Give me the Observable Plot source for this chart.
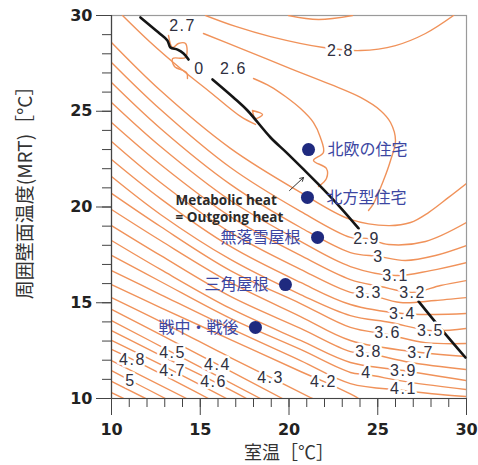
<!DOCTYPE html>
<html><head><meta charset="utf-8">
<script src="https://cdn.jsdelivr.net/npm/d3@7"></script>
<script src="https://cdn.jsdelivr.net/npm/@observablehq/plot@0.6"></script>
<style>
body{margin:0;background:#fff;}
.clabel text{letter-spacing:1.5px;}
</style></head><body><div id="chart"></div>
<script>
// ---- contour lines (room temp x, MRT y) ----
const c26 = [[18.00,26.71],[18.96,26.29],[19.80,25.77],[20.65,25.14],[21.38,24.41],[21.77,23.63],[21.94,22.85],[21.38,22.43],[22.11,22.01],[22.11,21.49],[21.66,21.07]];
const c27 = [[15.18,29.06],[17.27,28.28],[20.08,27.23],[22.34,26.40],[24.03,25.72],[25.15,25.04],[25.72,24.41],[26.00,23.47],[25.72,22.43],[25.32,21.38],[24.76,20.18],[24.48,19.82]];
const c27b = [[10.62,30],[12.20,28.59],[13.89,27.23],[15.58,25.98],[17.27,24.73],[18.11,24.31]];
const c27w = [[13.21,28.96],[13.44,28.33],[13.77,28.54],[14.17,28.54],[14.17,27.81],[13.44,27.75],[13.55,27.34],[14.23,27.02],[14.28,26.71]];
const c28top = [[15.30,30],[16.99,29.43],[18.96,28.90],[21.94,28.33],[24.03,28.17],[26.00,28.43],[27.69,29.06],[29.27,30]];
const c29top = [[19.97,30],[21.66,29.79],[23.58,30]];
const cLoop = [[17.94,25.04],[18.51,24.83],[18.11,24.62],[17.94,25.04]];
const c28 = [[10,28.59],[12.76,26.08],[16.70,23.06],[20.65,20.76],[23.46,19.35],[25.61,19.03],[26.85,19.19],[27.86,19.71],[28.99,20.50],[30,21.23]];
const c29 = [[10,27.55],[12.76,25.09],[16.70,22.06],[20.65,19.77],[23.46,18.41],[24.37,18.36],[25.61,18.04],[27.69,18.20],[30,19.19]];
const c30 = [[10,26.50],[12.76,24.10],[16.70,21.18],[20.65,18.93],[23.46,17.62],[25.04,17.42],[26.56,17.21],[28.25,17.47],[30,17.99]];
const c31 = [[10,25.46],[12.76,23.16],[16.70,20.34],[20.65,18.20],[23.46,16.89],[26.00,16.42],[27.97,16.68],[30,17.10]];
const c32 = [[10,24.41],[12.76,22.22],[16.70,19.50],[20.65,17.47],[23.46,16.21],[25.15,15.85],[26.96,15.54],[28.54,15.90],[30,16.16]];
const c33 = [[10,23.42],[12.76,21.28],[16.70,18.67],[20.65,16.74],[23.46,15.54],[24.48,15.43],[26.28,15.01],[28.25,15.12],[30,15.27]];
const c34 = [[10,22.48],[12.76,20.44],[16.70,17.94],[20.65,16.06],[23.46,14.91],[26.39,14.44],[28.25,14.39],[30,14.44]];
const c35 = [[10,21.59],[12.76,19.61],[16.70,17.26],[20.65,15.43],[23.46,14.33],[25.72,13.97],[27.97,13.55],[30,13.66]];
const c36 = [[10,20.71],[12.76,18.98],[16.70,16.68],[20.65,14.96],[23.46,13.71],[25.55,13.34],[27.69,12.92],[30,12.87]];
const c37 = [[10,19.87],[12.76,18.25],[16.70,16.06],[20.65,14.28],[23.46,13.03],[27.41,12.40],[30,12.19]];
const c38 = [[10,19.03],[12.76,17.47],[16.70,15.33],[20.65,13.66],[23.46,12.45],[24.48,12.35],[26.85,11.88],[30,11.51]];
const c39 = [[10,18.25],[12.76,16.74],[16.70,14.70],[20.65,13.03],[23.46,11.88],[26.45,11.46],[28.54,11.15],[30,10.94]];
const c40 = [[10,17.47],[12.76,16.11],[16.70,14.18],[20.65,12.56],[23.46,11.36],[24.37,11.25],[26.85,10.84],[30,10.47]];
const c41 = [[10,16.68],[12.76,15.43],[16.70,13.66],[20.65,11.98],[23.46,10.78],[26.45,10.42],[28.54,10.21],[30,10.10]];
const c42 = [[10,15.95],[12.76,14.75],[16.70,13.08],[20.65,11.41],[21.94,10.89],[23.75,10.10],[23.92,10.00]];
const c43 = [[10,15.27],[12.76,14.02],[16.70,12.14],[18.96,11.10],[21.21,10.05],[21.32,10]];
const c44 = [[10,14.65],[12.76,13.34],[15.97,11.78],[19.63,10]];
const c45 = [[10,14.07],[13.44,12.40],[18.39,10]];
const c46 = [[10,13.55],[12.76,12.25],[15.75,10.89],[17.61,10]];
const c47 = [[10,13.03],[13.44,11.46],[16.48,10]];
const c48 = [[10,12.56],[11.18,12.04],[15.46,10]];
const c49 = [[10,11.98],[14.23,10]];
const c50 = [[10,11.46],[11.07,10.94],[13.04,10]];
const c51 = [[10,10.89],[11.92,10]];
const c52 = [[10,10.31],[10.68,10]];

// ---- metabolic heat = outgoing heat line ----
const blackSeg1 = [[11.63,29.90],[12.65,29.11],[13.15,28.70],[13.32,28.33],[13.72,28.22],[14.06,28.02],[14.34,27.70]];
const blackSeg2 = [[15.69,26.66],[16.87,25.72],[17.66,25.04],[18.96,23.63],[19.92,22.79],[21.61,21.23],[22.90,19.97],[23.92,18.88]];
const blackSeg3 = [[27.30,15.07],[28.54,13.66],[29.94,12.14]];

// ---- contour labels ----
const labelText = ["2.6","2.7","2.8","0","2.9","3","3.1","3.2","3.3","3.4","3.5","3.6","3.7","3.8","3.9","4","4.1","4.2","4.3","4.4","4.5","4.6","4.7","4.8","5"];
const labelX = [16.87,14.00,22.90,14.96,24.37,25.04,26.00,26.96,24.48,26.39,27.97,25.55,27.41,24.48,26.45,24.37,26.45,21.94,18.96,15.97,13.44,15.75,13.44,11.18,11.07];
const labelY = [27.23,29.48,28.17,27.23,18.36,17.42,16.42,15.54,15.54,14.44,13.55,13.45,12.40,12.45,11.46,11.36,10.52,10.89,11.10,11.78,12.40,10.89,11.46,12.04,10.94];

// ---- housing types ----
const houseNames = ["北欧の住宅","北方型住宅","無落雪屋根","三角屋根","戦中・戦後"];
const houseX = [21.10,21.04,21.61,19.80,18.11];
const houseY = [23.00,20.50,18.41,15.95,13.71];
const houseSide = ["right","right","left","left","left"];

// ---- axes ----
const majorTicks = [10,15,20,25,30];
const minorTicks = [10,11,12,13,14,15,16,17,18,19,20,21,22,23,24,25,26,27,28,29,30];

const contourSets = [["2.6",c26],["2.7",c27],["2.7b",c27b],["2.7w",c27w],["2.8t",c28top],["2.9t",c29top],["loop",cLoop],
  ["2.8",c28],["2.9",c29],["3.0",c30],["3.1",c31],["3.2",c32],["3.3",c33],["3.4",c34],["3.5",c35],["3.6",c36],["3.7",c37],["3.8",c38],["3.9",c39],
  ["4.0",c40],["4.1",c41],["4.2",c42],["4.3",c43],["4.4",c44],["4.5",c45],["4.6",c46],["4.7",c47],["4.8",c48],["4.9",c49],["5.0",c50],["5.1",c51],["5.2",c52]];
const contourRows = contourSets.flatMap(([id, pts]) => pts.map(([x, y]) => ({id, x, y})));
const blackRows = [blackSeg1, blackSeg2, blackSeg3].flatMap((pts, i) => pts.map(([x, y]) => ({seg: i, x, y})));
const labels = labelText.map((t, i) => ({t, x: labelX[i], y: labelY[i]}));
const houses = houseNames.map((n, i) => ({n, x: houseX[i], y: houseY[i], side: houseSide[i]}));

const orange = "#f0925a";
const blue = "#3c46a2";

const chart = Plot.plot({
  width: 478, height: 465,
  marginLeft: 111, marginRight: 12, marginTop: 15, marginBottom: 67,
  x: {domain: [10, 30]},
  y: {domain: [10, 30]},
  style: {fontFamily: "'DejaVu Sans', sans-serif", background: "#fff", color: "#222"},
  marks: [
    Plot.frame({stroke: "#9a9a9a", strokeWidth: 1.2}),
    Plot.line(contourRows, {x: "x", y: "y", z: "id", stroke: orange, strokeWidth: 1.4, curve: "catmull-rom", clip: true}),
    Plot.line(blackRows, {x: "x", y: "y", z: "seg", stroke: "#151515", strokeWidth: 2.6, curve: "catmull-rom"}),
    Plot.text(labels, {x: "x", y: "y", text: "t", fill: "#2f3040", stroke: "white", strokeWidth: 5, fontSize: 16, fontFamily: "'Liberation Sans', sans-serif", className: "clabel"}),
    Plot.arrow([{x1: 20.03, y1: 20.86, x2: 20.82, y2: 21.54}], {x1: "x1", y1: "y1", x2: "x2", y2: "y2", stroke: "#333", strokeWidth: 1, headLength: 6}),
    Plot.text(["Metabolic heat", "= Outgoing heat"], {x: [13.61, 13.61], y: [20.34, 19.45], text: d => d, textAnchor: "start", fontSize: 13.5, fontWeight: "bold", fontFamily: "'Open Sans', sans-serif", fill: "#2a2a2a"}),
    Plot.dot(houses, {x: "x", y: "y", r: 6.5, fill: "#1f2a7f"}),
    Plot.text(houses.filter(d => d.side === "right"), {x: "x", y: "y", text: "n", dx: 19, textAnchor: "start", fontSize: 16, fill: blue, fontFamily: "'Noto Sans CJK JP', sans-serif"}),
    Plot.text(houses.filter(d => d.side === "left"), {x: "x", y: "y", text: "n", dx: -17, textAnchor: "end", fontSize: 16, fill: blue, fontFamily: "'Noto Sans CJK JP', sans-serif"}),
    Plot.ruleX([10], {stroke: "#444", strokeWidth: 1.2}),
    Plot.ruleY([10], {stroke: "#444", strokeWidth: 1.2}),
    Plot.axisY({ticks: minorTicks, tickSize: 9, tickFormat: () => "", label: null, stroke: "#444"}),
    Plot.axisY({ticks: majorTicks, tickSize: 15, tickPadding: 4, label: null, stroke: "#444", fontSize: 16, fontWeight: "bold"}),
    Plot.axisX({ticks: minorTicks, tickSize: 9, tickFormat: () => "", label: null, stroke: "#444"}),
    Plot.axisX({ticks: majorTicks, tickSize: 17, tickPadding: 8, label: null, stroke: "#444", fontSize: 16, fontWeight: "bold"}),
    Plot.text(["周囲壁面温度(MRT)［°C］"], {frameAnchor: "left", textAnchor: "middle", lineAnchor: "middle", rotate: -90, dx: -86, dy: -19, fontSize: 19, fill: "#333", fontFamily: "'Noto Sans CJK JP', sans-serif"}),
    Plot.text(["室温［℃］"], {frameAnchor: "bottom", textAnchor: "middle", lineAnchor: "middle", dy: 55, fontSize: 18, fill: "#333", fontFamily: "'Noto Sans CJK JP', sans-serif"})
  ]
});
document.getElementById("chart").append(chart);
</script>
</body></html>
